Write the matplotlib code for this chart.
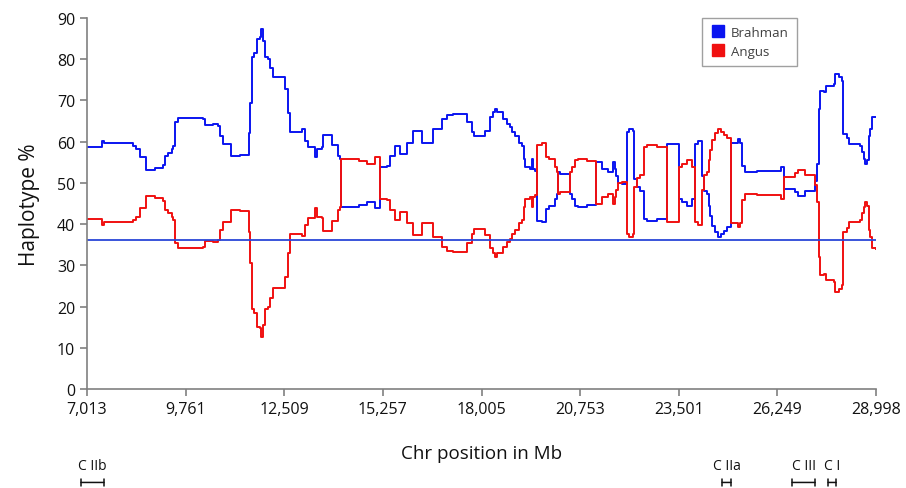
import matplotlib
matplotlib.use("Agg")
import matplotlib.pyplot as plt
import matplotlib.transforms as mtransforms
from matplotlib.lines import Line2D

plt.rcParams['font.family'] = ['Open Sans', 'DejaVu Sans']

# window start positions (kb) and haplotype share per breed
pos_kb = [7013, 7431, 7487, 8295, 8378, 8490, 8657, 8908, 9131, 9173,
          9270, 9368, 9423, 9479, 9535, 10245, 10315, 10524, 10663, 10719,
          10803, 11012, 11276, 11527, 11555, 11597, 11653, 11736, 11834, 11875,
          11917, 11959, 12043, 12112, 12196, 12530, 12600, 12656, 13004, 13088,
          13171, 13366, 13408, 13547, 13589, 13826, 14007, 14063, 14091, 14592,
          14801, 15038, 15164, 15359, 15456, 15595, 15735, 15916, 16097, 16334,
          16654, 16891, 17031, 17212, 17588, 17727, 17783, 18103, 18243, 18312,
          18368, 18424, 18605, 18702, 18800, 18842, 18939, 19037, 19120, 19176,
          19218, 19357, 19399, 19427, 19497, 19538, 19678, 19789, 19873, 20054,
          20096, 20124, 20193, 20458, 20513, 20611, 20695, 20946, 21182, 21350,
          21517, 21670, 21712, 21740, 21795, 21907, 22046, 22102, 22213, 22241,
          22325, 22422, 22520, 22603, 22882, 23161, 23495, 23579, 23718, 23857,
          23955, 24025, 24136, 24192, 24275, 24331, 24373, 24415, 24512, 24582,
          24665, 24749, 24833, 24958, 25153, 25209, 25265, 25348, 25669, 26351,
          26435, 26741, 26825, 27020, 27299, 27341, 27396, 27438, 27550, 27591,
          27814, 27856, 27954, 28037, 28079, 28177, 28233, 28553, 28595, 28650,
          28692, 28748, 28790, 28831, 28873, 28998]

brahman = [58.8, 60.2, 59.6, 58.9, 58.2, 56.2, 53.2, 53.6, 54.3, 56.6,
           57.2, 58.2, 59.0, 64.7, 65.8, 65.5, 64.0, 64.3, 63.9, 61.5,
           59.4, 56.6, 56.8, 62.0, 69.5, 80.5, 81.5, 84.9, 85.3, 87.3,
           84.5, 80.5, 80.0, 78.0, 75.6, 72.8, 67.0, 62.3, 63.0, 60.2,
           58.6, 56.2, 58.2, 58.6, 61.6, 59.2, 56.6, 55.8, 44.2, 44.6,
           45.4, 43.8, 53.8, 54.2, 56.6, 59.0, 57.0, 59.8, 62.7, 59.8,
           63.1, 65.5, 66.5, 66.7, 64.7, 62.3, 61.3, 62.7, 65.9, 67.1,
           67.9, 67.1, 65.5, 64.3, 63.5, 62.3, 61.5, 59.8, 59.0, 55.8,
           53.8, 53.4, 55.8, 53.4, 53.0, 40.8, 40.4, 43.7, 44.3, 46.1,
           47.3, 52.6, 52.2, 47.3, 46.1, 44.5, 44.1, 44.6, 55.0, 53.4,
           52.6, 55.0, 53.4, 51.8, 50.1, 49.7, 62.3, 63.2, 62.5, 50.9,
           48.9, 48.1, 41.2, 40.8, 41.2, 59.4, 46.1, 45.3, 44.5, 46.1,
           59.4, 60.2, 51.8, 48.1, 47.3, 44.5, 42.0, 39.6, 38.0, 36.8,
           37.6, 38.4, 39.2, 59.8, 60.6, 59.8, 54.2, 52.6, 53.0, 53.8,
           48.5, 47.7, 46.9, 48.1, 50.5, 54.6, 67.9, 72.4, 72.0, 73.6,
           74.0, 76.4, 75.8, 74.8, 61.9, 61.0, 59.4, 59.0, 57.4, 55.8,
           54.6, 55.5, 61.5, 63.1, 65.9, 66.1]

angus = [41.2, 39.8, 40.4, 41.1, 41.8, 43.8, 46.8, 46.4, 45.7, 43.4,
         42.8, 41.8, 41.0, 35.3, 34.2, 34.5, 36.0, 35.7, 36.1, 38.5,
         40.6, 43.4, 43.2, 38.0, 30.5, 19.5, 18.5, 15.1, 14.7, 12.7,
         15.5, 19.5, 20.0, 22.0, 24.4, 27.2, 33.0, 37.7, 37.0, 39.8,
         41.4, 43.8, 41.8, 41.4, 38.4, 40.8, 43.4, 44.2, 55.8, 55.4,
         54.6, 56.2, 46.2, 45.8, 43.4, 41.0, 43.0, 40.2, 37.3, 40.2,
         36.9, 34.5, 33.5, 33.3, 35.3, 37.7, 38.7, 37.3, 34.1, 32.9,
         32.1, 32.9, 34.5, 35.7, 36.5, 37.7, 38.5, 40.2, 41.0, 44.2,
         46.2, 46.6, 44.2, 46.6, 47.0, 59.2, 59.6, 56.3, 55.7, 53.9,
         52.7, 47.4, 47.8, 52.7, 53.9, 55.5, 55.9, 55.4, 45.0, 46.6,
         47.4, 45.0, 46.6, 48.2, 49.9, 50.3, 37.7, 36.8, 37.5, 49.1,
         51.1, 51.9, 58.8, 59.2, 58.8, 40.6, 53.9, 54.7, 55.5, 53.9,
         40.6, 39.8, 48.2, 51.9, 52.7, 55.5, 58.0, 60.4, 62.0, 63.2,
         62.4, 61.6, 60.8, 40.2, 39.4, 40.2, 45.8, 47.4, 47.0, 46.2,
         51.5, 52.3, 53.1, 51.9, 49.5, 45.4, 32.1, 27.6, 28.0, 26.4,
         26.0, 23.6, 24.2, 25.2, 38.1, 39.0, 40.6, 41.0, 42.6, 44.2,
         45.4, 44.5, 38.5, 36.9, 34.1, 33.9]

threshold = 36.2
xticks = [7013, 9761, 12509, 15257, 18005, 20753, 23501, 26249, 28998]

# gene clusters shown under the axis: label, start kb, end kb
clusters = [("C IIb", 6846, 7487), ("C IIa", 24707, 24958),
            ("C III", 26658, 27299), ("C I", 27661, 27884)]

fig = plt.figure(figsize=(9.06, 4.89), dpi=100)
ax = fig.add_axes([0.096, 0.2025, 0.871, 0.7585])

ax.plot(pos_kb, brahman, drawstyle='steps-post', color='#0a14f0', lw=1.4)
ax.plot(pos_kb, angus, drawstyle='steps-post', color='#f01010', lw=1.4)
ax.axhline(threshold, color='#2a46d8', lw=1.3)

ax.set_xlim(7013, 28998)
ax.set_ylim(0, 90)
ax.set_yticks(range(0, 91, 10))
ax.set_xticks(xticks)
ax.set_xticklabels([f"{v:,}" for v in xticks])
for s in ['top', 'right']:
    ax.spines[s].set_visible(False)
for s in ['left', 'bottom']:
    ax.spines[s].set_color('#808080')
    ax.spines[s].set_linewidth(1.2)
ax.tick_params(axis='both', colors='#808080', labelcolor='#111111',
               labelsize=11.5, length=5, width=1.2)
ax.tick_params(axis='x', pad=4)

ax.set_ylabel('Haplotype %', fontsize=15, labelpad=12, color='#111111')
ax.set_xlabel('Chr position in Mb', fontsize=13.5, labelpad=19, color='#111111')

handles = [Line2D([], [], ls='none', marker='s', ms=8, color='#0a14f0'),
           Line2D([], [], ls='none', marker='s', ms=8, color='#f01010')]
leg = ax.legend(handles, ['Brahman', 'Angus'], loc='upper left',
                bbox_to_anchor=(0.779, 1.0), borderaxespad=0, fontsize=9.5,
                fancybox=False, framealpha=1, edgecolor='#a0a0a0',
                handletextpad=0.4, handlelength=1.2, borderpad=0.6,
                labelspacing=0.45)
for t in leg.get_texts():
    t.set_color('#404040')

trans = mtransforms.blended_transform_factory(ax.transData, ax.transAxes)
for name, start, end in clusters:
    mid = (start + end) / 2
    ax.text(mid, -0.205, name, transform=trans, ha='center', va='center',
            fontsize=10, color='#111111', clip_on=False)
    ax.annotate('', xy=(start, -0.252), xytext=(end, -0.252),
                xycoords=trans, textcoords=trans, annotation_clip=False,
                arrowprops=dict(arrowstyle='|-|, widthA=0.25, widthB=0.25',
                                lw=1.1, color='#111111', shrinkA=0, shrinkB=0))

fig.savefig('out.png', dpi=100)
